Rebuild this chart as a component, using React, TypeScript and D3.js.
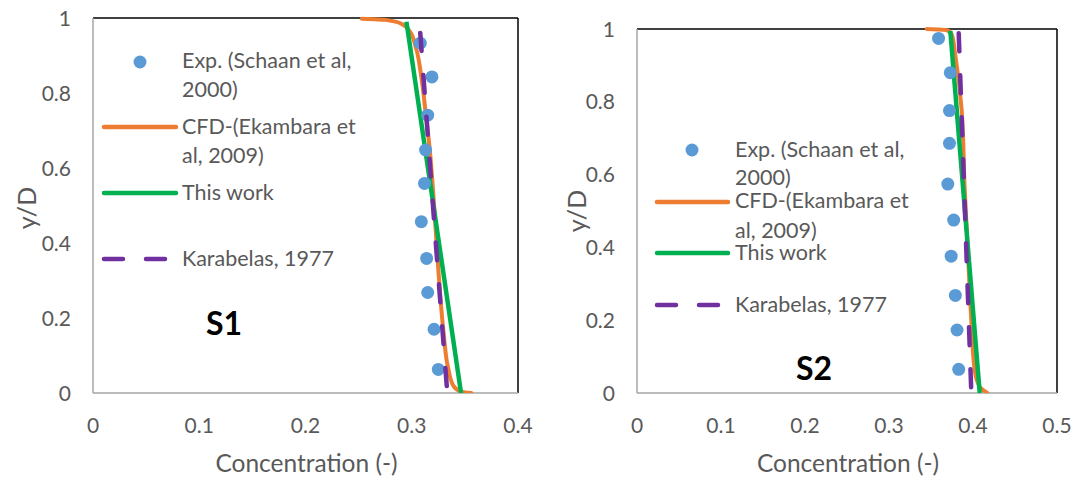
import React from "react";
import * as d3 from "d3";

// ---------- DATA ----------
const xTicksS1 = [0, 0.1, 0.2, 0.3, 0.4];
const xTicksS2 = [0, 0.1, 0.2, 0.3, 0.4, 0.5];
const yTicks = [0, 0.2, 0.4, 0.6, 0.8, 1];

// S1
const expS1X = [0.308, 0.319, 0.315, 0.313, 0.312, 0.309, 0.314, 0.315, 0.321, 0.325];
const expS1Y = [0.933, 0.843, 0.741, 0.648, 0.559, 0.457, 0.359, 0.268, 0.170, 0.063];
const cfdS1X = [0.253, 0.275, 0.290, 0.298, 0.304, 0.309, 0.313, 0.317, 0.321, 0.325, 0.330, 0.334, 0.339, 0.346, 0.356];
const cfdS1Y = [0.998, 0.995, 0.985, 0.965, 0.92, 0.843, 0.75, 0.648, 0.5, 0.33, 0.16, 0.07, 0.02, 0.004, 0.0];
const workS1X = [0.295, 0.3464];
const workS1Y = [0.99, 0.0];
const karS1X = [0.308, 0.3175, 0.3212, 0.333, 0.3335];
const karS1Y = [0.96, 0.595, 0.4525, 0.017, 0.0];

// S2
const expS2X = [0.359, 0.373, 0.372, 0.372, 0.370, 0.377, 0.374, 0.379, 0.381, 0.383];
const expS2Y = [0.974, 0.880, 0.776, 0.686, 0.574, 0.475, 0.376, 0.268, 0.173, 0.065];
const cfdS2X = [0.345, 0.369, 0.375, 0.3786, 0.3865, 0.390, 0.394, 0.398, 0.402, 0.408, 0.417];
const cfdS2Y = [1.0, 0.997, 0.983, 0.933, 0.777, 0.567, 0.384, 0.2, 0.063, 0.017, 0.0];
const workS2X = [0.373, 0.408];
const workS2Y = [0.995, 0.0];
const karS2X = [0.383, 0.398];
const karS2Y = [0.988, 0.0];

const legendLabels = [
  ["Exp. (Schaan et al,", "2000)"],
  ["CFD-(Ekambara et", "al, 2009)"],
  ["This work"],
  ["Karabelas, 1977"],
];

// ---------- STYLE ----------
const BLUE = "#5B9BD5";
const ORANGE = "#ED7D31";
const GREEN = "#00B050";
const PURPLE = "#7030A0";
const TXT = "#595959";
const FONT = "Lato, 'Open Sans', sans-serif";

type Panel = {
  x0: number; x1: number; y0: number; y1: number;
  xMax: number; xTicks: number[];
  exp: [number[], number[]]; cfd: [number[], number[]];
  work: [number[], number[]]; kar: [number[], number[]];
  ytickRight: number; ylabelX: number; ylabelY: number;
  label: string; labelX: number; labelY: number;
  legend: {
    markerX: number; markerY: number; lineX0: number; lineX1: number; textX: number;
    baselines: number[][]; lineYs: number[];
  };
};

const panels: Panel[] = [
  {
    x0: 93, x1: 518, y0: 393, y1: 18, xMax: 0.4, xTicks: xTicksS1,
    exp: [expS1X, expS1Y], cfd: [cfdS1X, cfdS1Y], work: [workS1X, workS1Y], kar: [karS1X, karS1Y],
    ytickRight: 71, ylabelX: 27, ylabelY: 208,
    label: "S1", labelX: 224, labelY: 335,
    legend: {
      markerX: 140, markerY: 62, lineX0: 104, lineX1: 176, textX: 182,
      baselines: [[68, 97], [134, 163], [200], [266]],
      lineYs: [0, 127, 193, 259],
    },
  },
  {
    x0: 637, x1: 1057, y0: 393, y1: 29, xMax: 0.5, xTicks: xTicksS2,
    exp: [expS2X, expS2Y], cfd: [cfdS2X, cfdS2Y], work: [workS2X, workS2Y], kar: [karS2X, karS2Y],
    ytickRight: 615, ylabelX: 577, ylabelY: 211,
    label: "S2", labelX: 814, labelY: 380,
    legend: {
      markerX: 692, markerY: 150, lineX0: 657, lineX1: 728, textX: 735,
      baselines: [[157, 185], [208, 238], [260], [312]],
      lineYs: [0, 202, 253, 305],
    },
  },
];

function PanelView({ p }: { p: Panel }) {
  const x = d3.scaleLinear().domain([0, p.xMax]).range([p.x0, p.x1]);
  const y = d3.scaleLinear().domain([0, 1]).range([p.y0, p.y1]);
  const zip = (a: [number[], number[]]) => a[0].map((v, i) => [v, a[1][i]] as [number, number]);
  const curve = d3.line<[number, number]>().x((d) => x(d[0])).y((d) => y(d[1])).curve(d3.curveMonotoneY);
  const straight = d3.line<[number, number]>().x((d) => x(d[0])).y((d) => y(d[1]));
  const clipId = "clip-" + p.label;
  const L = p.legend;
  return (
    <g>
      <defs>
        <clipPath id={clipId}>
          <rect x={p.x0} y={p.y1 - 3} width={p.x1 - p.x0 + 3} height={p.y0 - p.y1 + 3} />
        </clipPath>
      </defs>
      {/* frame */}
      <line x1={p.x0} x2={p.x1} y1={p.y1} y2={p.y1} stroke="#000" strokeWidth={1.5} />
      <line x1={p.x1} x2={p.x1} y1={p.y1} y2={p.y0} stroke="#000" strokeWidth={1.5} />
      <line x1={p.x0} x2={p.x0} y1={p.y1} y2={p.y0} stroke="#A6A6A6" strokeWidth={1.5} />
      <line x1={p.x0} x2={p.x1} y1={p.y0} y2={p.y0} stroke="#A6A6A6" strokeWidth={1.5} />
      {/* ticks */}
      {p.xTicks.map((t) => (
        <text key={"x" + t} x={x(t)} y={433} textAnchor="middle" fontSize={21} fill={TXT} fontFamily={FONT}>
          {d3.format("")(t)}
        </text>
      ))}
      {yTicks.map((t) => (
        <text key={"y" + t} x={p.ytickRight} y={y(t) + 7.5} textAnchor="end" fontSize={21} fill={TXT} fontFamily={FONT}>
          {d3.format("")(t)}
        </text>
      ))}
      <text x={(p.x0 + p.x1) / 2 + 1} y={472} textAnchor="middle" fontSize={24.5} fill={TXT} fontFamily={FONT}>
        Concentration (-)
      </text>
      <text transform={`translate(${p.ylabelX},${p.ylabelY}) rotate(-90)`} textAnchor="middle" fontSize={25} fill={TXT} fontFamily={FONT} dy="0.35em">
        y/D
      </text>
      {/* legend */}
      <circle cx={L.markerX} cy={L.markerY} r={6.5} fill={BLUE} />
      <line x1={L.lineX0} x2={L.lineX1} y1={L.lineYs[1]} y2={L.lineYs[1]} stroke={ORANGE} strokeWidth={4.5} strokeLinecap="round" />
      <line x1={L.lineX0} x2={L.lineX1} y1={L.lineYs[2]} y2={L.lineYs[2]} stroke={GREEN} strokeWidth={4.5} strokeLinecap="round" />
      <line x1={L.lineX0} x2={L.lineX1} y1={L.lineYs[3]} y2={L.lineYs[3]} stroke={PURPLE} strokeWidth={4.5} strokeLinecap="round" strokeDasharray="19 23" />
      {legendLabels.map((lines, i) =>
        lines.map((s, j) => (
          <text key={i + "-" + j} x={L.textX} y={L.baselines[i][j]} fontSize={21.5} fill={TXT} fontFamily={FONT}>
            {s}
          </text>
        ))
      )}
      {/* series */}
      <g clipPath={`url(#${clipId})`}>
        <path d={curve(zip(p.cfd)) || ""} fill="none" stroke={ORANGE} strokeWidth={4} strokeLinecap="round" />
        <path d={straight(zip(p.work)) || ""} fill="none" stroke={GREEN} strokeWidth={4.5} />
        {zip(p.exp).map((d, i) => (
          <circle key={i} cx={x(d[0])} cy={y(d[1])} r={6.5} fill={BLUE} />
        ))}
        <path d={straight(zip(p.kar)) || ""} fill="none" stroke={PURPLE} strokeWidth={4.5} strokeLinecap="round" strokeDasharray="18 24" />
      </g>
      <text x={p.labelX} y={p.labelY} textAnchor="middle" fontSize={32} fontWeight="bold" fill="#000" fontFamily={FONT}>
        {p.label}
      </text>
    </g>
  );
}

export default function App() {
  return (
    <svg width={1079} height={479} style={{ position: "absolute", left: 0, top: 0, background: "#fff" }}>
      <rect width={1079} height={479} fill="#fff" />
      {panels.map((p) => (
        <PanelView key={p.label} p={p} />
      ))}
    </svg>
  );
}
